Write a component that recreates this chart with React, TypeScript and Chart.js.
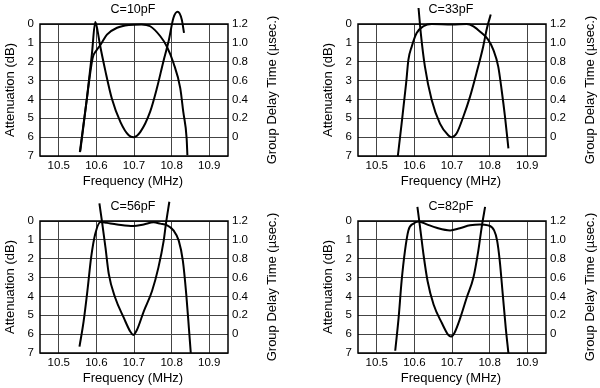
import React, { useEffect, useRef } from "react";
import { Chart, registerables } from "chart.js";

Chart.register(...registerables);

// ---- tick labels ----
const freqTicks = [10.5, 10.6, 10.7, 10.8, 10.9];
const attenTicks = [0, 1, 2, 3, 4, 5, 6, 7];
const delayTicks = [1.2, 1.0, 0.8, 0.6, 0.4, 0.2, 0];

// ---- C=10pF ----
const c10AttenFreq = [10.556, 10.575, 10.59, 10.6, 10.611, 10.628, 10.655, 10.686, 10.72, 10.743, 10.77, 10.787, 10.805, 10.823, 10.831, 10.84, 10.842];
const c10AttenDb = [6.8, 3.9, 1.8, 1.4, 1.1, 0.56, 0.2, 0.05, 0.02, 0.12, 0.65, 1.18, 2.07, 3.4, 4.65, 6.07, 6.96];
const c10DelayFreq = [10.557, 10.575, 10.588, 10.597, 10.603, 10.609, 10.624, 10.641, 10.664, 10.686, 10.699, 10.717, 10.743, 10.761, 10.778, 10.792, 10.805, 10.816, 10.827, 10.833];
const c10DelayUs = [-0.15, 0.42, 0.88, 1.22, 1.13, 0.99, 0.7, 0.41, 0.16, 0.02, 0.0, 0.056, 0.27, 0.52, 0.8, 1.016, 1.266, 1.33, 1.248, 1.106];

// ---- C=33pF ----
const c33AttenFreq = [10.556, 10.566, 10.578, 10.584, 10.593, 10.606, 10.624, 10.646, 10.7, 10.739, 10.757, 10.779, 10.796, 10.81, 10.823, 10.832, 10.841, 10.85];
const c33AttenDb = [7.0, 5.28, 3.14, 1.9, 1.19, 0.48, 0.12, 0.0, 0.02, 0.0, 0.12, 0.48, 0.83, 1.37, 2.26, 3.5, 4.92, 6.6];
const c33DelayFreq = [10.611, 10.617, 10.628, 10.646, 10.668, 10.69, 10.699, 10.712, 10.73, 10.748, 10.765, 10.783, 10.792, 10.803];
const c33DelayUs = [1.37, 1.104, 0.748, 0.394, 0.144, 0.02, 0.0, 0.038, 0.216, 0.43, 0.678, 0.962, 1.14, 1.3];

// ---- C=56pF ----
const c56AttenFreq = [10.555, 10.566, 10.577, 10.586, 10.597, 10.611, 10.628, 10.655, 10.698, 10.726, 10.752, 10.77, 10.788, 10.805, 10.819, 10.83, 10.839, 10.846, 10.851];
const c56AttenDb = [6.66, 5.32, 3.54, 1.93, 0.68, 0.05, 0.1, 0.18, 0.27, 0.18, 0.07, 0.14, 0.23, 0.5, 1.04, 2.11, 3.89, 5.68, 7.0];
const c56DelayFreq = [10.608, 10.615, 10.624, 10.633, 10.65, 10.673, 10.69, 10.698, 10.708, 10.726, 10.748, 10.765, 10.779, 10.785, 10.794];
const c56DelayUs = [1.386, 1.19, 0.922, 0.636, 0.386, 0.172, 0.028, -0.008, 0.046, 0.242, 0.458, 0.708, 0.992, 1.172, 1.404];

// ---- C=82pF ----
const c82AttenFreq = [10.549, 10.558, 10.566, 10.575, 10.584, 10.597, 10.611, 10.633, 10.659, 10.695, 10.721, 10.748, 10.774, 10.796, 10.812, 10.82, 10.827, 10.835, 10.843, 10.85];
const c82AttenDb = [6.88, 5.14, 3.18, 1.57, 0.5, 0.14, 0.02, 0.18, 0.36, 0.5, 0.38, 0.23, 0.18, 0.23, 0.5, 1.04, 2.11, 3.89, 5.68, 7.0];
const c82DelayFreq = [10.608, 10.615, 10.624, 10.635, 10.651, 10.673, 10.69, 10.697, 10.706, 10.722, 10.739, 10.757, 10.77, 10.779, 10.788];
const c82DelayUs = [1.35, 1.136, 0.85, 0.564, 0.314, 0.118, -0.008, -0.026, 0.01, 0.172, 0.386, 0.6, 0.886, 1.136, 1.35];

const FONT = "'Liberation Sans', Arial, Helvetica, sans-serif";
const CANVAS_W = 282;
const CANVAS_H = 191;

type PanelProps = {
  title: string;
  attF: number[];
  attDb: number[];
  gdF: number[];
  gdUs: number[];
  left: number;
  top: number;
};

function Panel({ title, attF, attDb, gdF, gdUs, left, top }: PanelProps) {
  const ref = useRef<HTMLCanvasElement>(null);

  useEffect(() => {
    if (!ref.current) return;

    const textPlugin = {
      id: "panelText",
      beforeDatasetsDraw(chart: any) {
        const { ctx, chartArea: ca } = chart;
        ctx.save();
        ctx.strokeStyle = "#000";
        ctx.lineWidth = 1.5;
        ctx.strokeRect(ca.left, ca.top, ca.right - ca.left, ca.bottom - ca.top);
        ctx.restore();
      },
      afterDraw(chart: any) {
        const { ctx, chartArea: ca } = chart;
        const cx = (ca.left + ca.right) / 2;
        const cy = (ca.top + ca.bottom) / 2;
        ctx.save();
        ctx.fillStyle = "#000";
        ctx.textAlign = "center";
        ctx.textBaseline = "middle";
        ctx.font = `12.5px ${FONT}`;
        ctx.fillText(title, cx - 1, 9.5);
        ctx.font = `13px ${FONT}`;
        ctx.fillText("Frequency (MHz)", cx - 1, 181);
        ctx.save();
        ctx.translate(10, cy);
        ctx.rotate(-Math.PI / 2);
        ctx.fillText("Attenuation (dB)", 0, 0);
        ctx.restore();
        ctx.save();
        ctx.translate(272, cy);
        ctx.rotate(-Math.PI / 2);
        ctx.fillText("Group Delay Time (\u00b5sec.)", 0, 0);
        ctx.restore();
        ctx.restore();
      },
    };

    const lineStyle = {
      borderColor: "#000",
      borderWidth: 2,
      pointRadius: 0,
      fill: false,
      cubicInterpolationMode: "monotone" as const,
      clip: false as any,
    };

    const tickFont = { family: FONT, size: 11.5 };

    const chart = new Chart(ref.current, {
      type: "line",
      data: {
        datasets: [
          {
            ...lineStyle,
            label: "Attenuation",
            yAxisID: "y",
            data: attF.map((x, i) => ({ x, y: attDb[i] })),
          },
          {
            ...lineStyle,
            label: "Group Delay",
            yAxisID: "y1",
            data: gdF.map((x, i) => ({ x, y: gdUs[i] })),
          },
        ],
      },
      options: {
        responsive: false,
        animation: false,
        events: [],
        layout: { padding: { top: 24, left: 0, right: 0, bottom: 0 } },
        plugins: {
          legend: { display: false },
          tooltip: { enabled: false },
          title: { display: false },
        },
        scales: {
          x: {
            type: "linear",
            min: 10.45,
            max: 10.95,
            afterBuildTicks: (s: any) => {
              s.ticks = freqTicks.map((v) => ({ value: v }));
            },
            afterFit: (s: any) => {
              s.height = 35;
            },
            grid: { color: "#444", lineWidth: 1, drawTicks: false },
            border: { display: false },
            ticks: {
              padding: 3,
              color: "#000",
              font: tickFont,
              autoSkip: false,
              maxRotation: 0,
              callback: (v: any) => Number(v).toFixed(1),
            },
          },
          y: {
            type: "linear",
            position: "left",
            min: 0,
            max: 7,
            reverse: true,
            afterBuildTicks: (s: any) => {
              s.ticks = attenTicks.map((v) => ({ value: v }));
            },
            afterFit: (s: any) => {
              s.width = 40;
            },
            grid: { color: "#444", lineWidth: 1, drawTicks: false },
            border: { display: false },
            ticks: {
              padding: 6,
              color: "#000",
              font: tickFont,
              callback: (v: any) => String(v),
            },
          },
          y1: {
            type: "linear",
            position: "right",
            min: -0.2,
            max: 1.2,
            afterBuildTicks: (s: any) => {
              s.ticks = delayTicks.map((v) => ({ value: v }));
            },
            afterFit: (s: any) => {
              s.width = 54;
            },
            grid: { display: false, drawTicks: false },
            border: { display: false },
            ticks: {
              padding: 4,
              color: "#000",
              font: tickFont,
              callback: (v: any) => (Math.abs(Number(v)) < 1e-9 ? "0" : Number(v).toFixed(1)),
            },
          },
        },
      },
      plugins: [textPlugin],
    });

    return () => chart.destroy();
  }, [title, attF, attDb, gdF, gdUs]);

  return (
    <canvas
      ref={ref}
      width={CANVAS_W}
      height={CANVAS_H}
      style={{
        position: "absolute",
        left,
        top,
        width: CANVAS_W,
        height: CANVAS_H,
      }}
    />
  );
}

export default function App() {
  return (
    <div
      style={{
        position: "absolute",
        left: 0,
        top: 0,
        width: 600,
        height: 388,
        overflow: "hidden",
        background: "#fff",
      }}
    >
      <Panel title="C=10pF" attF={c10AttenFreq} attDb={c10AttenDb} gdF={c10DelayFreq} gdUs={c10DelayUs} left={0} top={0} />
      <Panel title="C=33pF" attF={c33AttenFreq} attDb={c33AttenDb} gdF={c33DelayFreq} gdUs={c33DelayUs} left={318} top={0} />
      <Panel title="C=56pF" attF={c56AttenFreq} attDb={c56AttenDb} gdF={c56DelayFreq} gdUs={c56DelayUs} left={0} top={197} />
      <Panel title="C=82pF" attF={c82AttenFreq} attDb={c82AttenDb} gdF={c82DelayFreq} gdUs={c82DelayUs} left={318} top={197} />
    </div>
  );
}
